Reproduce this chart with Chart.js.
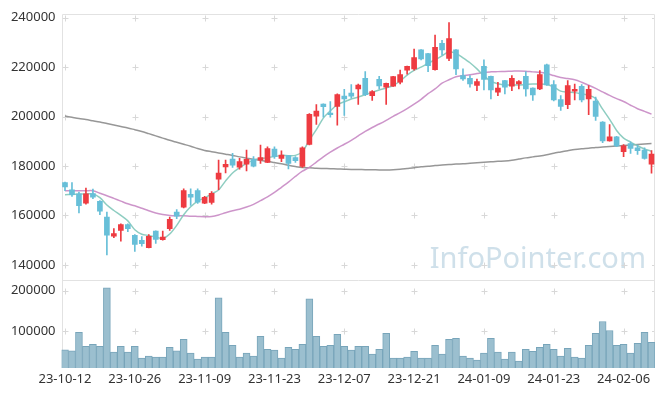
<!DOCTYPE html>
<html>
<head>
<meta charset="utf-8">
<script src="https://cdn.jsdelivr.net/npm/chart.js@4.4.1/dist/chart.umd.min.js"></script>
<style>
  html, body { margin: 0; padding: 0; background: #fff; }
  #wrap { width: 665px; height: 397px; }
</style>
</head>
<body>
<div id="wrap"><canvas id="chart" width="665" height="397"></canvas></div>
<script>
(function () {
  "use strict";

  /* ── Data ──────────────────────────────────── */

  var dates = [
    "23-10-12", "23-10-13", "23-10-16", "23-10-17", "23-10-18", "23-10-19", "23-10-20", "23-10-23", "23-10-24", "23-10-25",
    "23-10-26", "23-10-27", "23-10-30", "23-10-31", "23-11-01", "23-11-02", "23-11-03", "23-11-06", "23-11-07", "23-11-08",
    "23-11-09", "23-11-10", "23-11-13", "23-11-14", "23-11-15", "23-11-16", "23-11-17", "23-11-20", "23-11-21", "23-11-22",
    "23-11-23", "23-11-24", "23-11-27", "23-11-28", "23-11-29", "23-11-30", "23-12-01", "23-12-04", "23-12-05", "23-12-06",
    "23-12-07", "23-12-08", "23-12-11", "23-12-12", "23-12-13", "23-12-14", "23-12-15", "23-12-18", "23-12-19", "23-12-20",
    "23-12-21", "23-12-22", "23-12-26", "23-12-27", "23-12-28", "24-01-02", "24-01-03", "24-01-04", "24-01-05", "24-01-08",
    "24-01-09", "24-01-10", "24-01-11", "24-01-12", "24-01-15", "24-01-16", "24-01-17", "24-01-18", "24-01-19", "24-01-22",
    "24-01-23", "24-01-24", "24-01-25", "24-01-26", "24-01-29", "24-01-30", "24-01-31", "24-02-01", "24-02-02", "24-02-05",
    "24-02-06", "24-02-07", "24-02-08", "24-02-13", "24-02-14"
  ];

  var opens = [
    173300, 170400, 168700, 165000, 168800, 165700, 159300, 151600, 153900, 156300,
    152000, 149900, 147000, 153700, 150200, 154600, 161400, 163300, 168500, 170100,
    165000, 165300, 174700, 179600, 182800, 179500, 180700, 182700, 182400, 181500,
    186900, 183100, 184200, 183400, 179800, 188700, 200200, 205100, 201400, 204100,
    208300, 209500, 211200, 215500, 208500, 215100, 211900, 212300, 213900, 218800,
    219300, 227000, 225500, 219000, 229600, 223500, 227000, 216600, 215500, 212600,
    220300, 216300, 209900, 214600, 212300, 213200, 216300, 211500, 211200, 221000,
    213000, 206900, 204800, 210300, 212300, 207200, 206300, 197800, 190200, 191800,
    185800, 189100, 187400, 186500, 180700
  ];

  var highs = [
    173500, 173300, 169500, 171100, 170700, 166000, 161400, 154700, 156600, 156600,
    152300, 151400, 152300, 153800, 153700, 159300, 162400, 170800, 170800, 170800,
    167700, 169700, 182400, 182400, 185100, 183100, 186500, 183800, 188500, 187800,
    187800, 186100, 184300, 183800, 187800, 201200, 204900, 205200, 206100, 209200,
    211000, 213000, 213200, 218200, 210500, 216300, 213600, 216300, 218800, 220400,
    227300, 227100, 225600, 233000, 230900, 238000, 227100, 219300, 216600, 215200,
    223000, 216400, 213900, 214700, 216600, 214600, 218200, 211600, 218600, 221300,
    214600, 208500, 214600, 213200, 213000, 212600, 207900, 198000, 196800, 192000,
    188700, 189800, 188500, 187400, 186200
  ];

  var lows = [
    170000, 167700, 161000, 164600, 166800, 160300, 144000, 151000, 149600, 153400,
    145400, 147600, 146900, 148700, 150000, 153900, 158700, 163000, 164100, 164900,
    164800, 164600, 170400, 177200, 179400, 178700, 178000, 179600, 181100, 181400,
    183100, 181800, 178800, 181500, 179400, 188500, 196800, 199800, 199800, 196500,
    200500, 207500, 204900, 208500, 206500, 211200, 204900, 212200, 213200, 217200,
    218800, 222900, 218200, 218800, 224900, 222600, 217000, 214600, 211900, 210500,
    210800, 207200, 208500, 209200, 210500, 211200, 208300, 206500, 210900, 212600,
    206300, 202500, 203200, 206800, 205900, 200800, 198500, 189500, 190100, 187800,
    183800, 185100, 184700, 182800, 177100
  ];

  var closes = [
    171500, 168400, 164000, 168700, 167400, 161700, 152000, 152700, 156300, 154600,
    148300, 148600, 151600, 150300, 151200, 158400, 159700, 170100, 167400, 165400,
    167300, 169000, 177100, 180700, 180300, 181800, 182700, 179900, 183400, 187100,
    183800, 184400, 181100, 182200, 187400, 200900, 202200, 204000, 200800, 208900,
    207200, 208300, 212800, 208900, 210100, 212400, 213500, 216200, 217000, 220300,
    223900, 223300, 220600, 228000, 227000, 231600, 219300, 215200, 213200, 214200,
    215000, 210800, 211500, 211900, 215500, 214200, 211200, 208800, 217000, 212800,
    206800, 204100, 212600, 211000, 206800, 211000, 200100, 190200, 191800, 188100,
    188200, 187100, 186200, 183100, 184800
  ];

  var ma5 = [
    168400, 168500, 168600, 168700, 168700, 167200, 164200, 162000, 160000, 157800,
    154200, 152400, 151900, 151300, 150700, 152500, 156000, 160300, 163500, 165800,
    167100, 168700, 170300, 174000, 177200, 179300, 181100, 182300, 183000, 183400,
    183800, 184300, 184200, 184300, 185800, 190500, 194700, 199400, 202300, 204800,
    206000, 207100, 207900, 208900, 209800, 210800, 211600, 212600, 214400, 216800,
    218700, 220000, 221600, 223000, 224600, 226200, 225600, 223800, 221800, 219300,
    216500, 214300, 213300, 212800, 212800, 212800, 213000, 213200, 213200, 213000,
    212000, 210300, 209900, 209700, 209200, 208700, 207300, 203000, 198900, 194400,
    191300, 189700, 188200, 186900, 186000
  ];

  var ma20 = [
    170000, 170000, 170000, 170000, 170000, 169000, 168000, 166900, 165800, 164700,
    163900, 162900, 161900, 161000, 160400, 160000, 159900, 159900, 159700, 159600,
    159500, 159600, 160200, 161100, 161900, 162500, 163400, 164500, 166000, 167500,
    169300, 171400, 173500, 175800, 177900, 179500, 181600, 183700, 185600, 187300,
    188800, 190400, 192200, 194000, 195600, 197000, 198500, 200100, 201600, 203200,
    205000, 207000, 209300, 211200, 213500, 214900, 216100, 216600, 216900, 217400,
    217900, 218100, 218200, 218300, 218400, 218500, 218400, 218100, 217900, 217400,
    216600, 215800, 215400, 214900, 213900, 212700, 211400, 210000, 208600, 207300,
    206100, 204600, 203200, 202100, 201000
  ];

  var ma60 = [
    200200, 199700, 199200, 198800, 198300, 197800, 197200, 196600, 196000, 195400,
    194700, 194000, 193100, 192200, 191300, 190400, 189600, 188800, 188000, 187100,
    186300, 185800, 185300, 184800, 184300, 183700, 183200, 182700, 182300, 181900,
    181400, 180900, 180300, 179800, 179400, 179300, 179100, 179000, 178900, 178800,
    178700, 178600, 178600, 178500, 178500, 178400, 178400, 178500, 178700, 179000,
    179300, 179700, 179900, 180200, 180400, 180600, 180800, 180900, 181100, 181300,
    181500, 181700, 181900, 182000, 182300, 182800, 183300, 183700, 184100, 184600,
    185200, 185700, 186200, 186700, 187000, 187200, 187500, 187700, 187900, 188100,
    188300, 188500, 188700, 188900, 189100
  ];

  var volumes = [
    53700, 51200, 96800, 62600, 67500, 62600, 206500, 48000, 62600, 48000,
    62600, 33300, 38200, 35800, 35800, 60200, 51200, 79700, 45500, 30900,
    35800, 35800, 182100, 96800, 65000, 35800, 45500, 38200, 87000, 55300,
    52900, 33300, 60200, 55300, 67500, 179700, 87000, 62600, 65000, 91900,
    62600, 52900, 62600, 62600, 43100, 55300, 94300, 33300, 33300, 35800,
    50400, 33300, 33300, 65000, 43100, 79700, 82100, 38200, 33300, 28500,
    45500, 82100, 48000, 30900, 48000, 26000, 55300, 50400, 60200, 67500,
    55300, 38200, 57700, 35800, 33300, 65000, 94300, 123600, 101600, 65000,
    67500, 45500, 69900, 96800, 72400
  ];

  var priceTicks = [140000, 160000, 180000, 200000, 220000, 240000];
  var volumeTicks = [100000, 200000];

  /* ── Style ─────────────────────────────────── */

  var RED = "#ee3b41";
  var BLUE = "#67bfd8";
  var FONT = { family: "'Noto Sans', 'DejaVu Sans', sans-serif", size: 13 };
  var TEXT = "#333";

  function candleColor(i) { return closes[i] >= opens[i] ? RED : BLUE; }

  var bodyColors = opens.map(function (o, i) { return candleColor(i); });

  /* ── Plugin: frame, crosses, watermark ─────── */

  var framePlugin = {
    id: "frame",
    beforeDatasetsDraw: function (chart) {
      var ctx = chart.ctx;
      var a = chart.chartArea;
      var xs = chart.scales.x, ys = chart.scales.y, yv = chart.scales.yv;

      ctx.save();

      // watermark
      ctx.font = "29px 'Noto Sans', sans-serif";
      ctx.fillStyle = "#cfe0ea";
      ctx.textAlign = "right";
      ctx.textBaseline = "alphabetic";
      ctx.fillText("InfoPointer.com", 646, ys.bottom - 12);

      // crosses at grid intersections
      ctx.strokeStyle = "#d8d8d8";
      ctx.lineWidth = 1;
      ctx.beginPath();
      var rows = [];
      priceTicks.forEach(function (v) { rows.push(ys.getPixelForValue(v)); });
      volumeTicks.forEach(function (v) { rows.push(yv.getPixelForValue(v)); });
      for (var i = 0; i < dates.length; i += 10) {
        var x = Math.round(xs.getPixelForValue(i)) + 0.5;
        rows.forEach(function (y) {
          y = Math.round(y) + 0.5;
          ctx.moveTo(x - 3, y); ctx.lineTo(x + 3, y);
          ctx.moveTo(x, y - 3); ctx.lineTo(x, y + 3);
        });
      }
      rows.forEach(function (y) {
        y = Math.round(y) + 0.5;
        ctx.moveTo(a.right - 3, y); ctx.lineTo(a.right, y);
      });
      ctx.stroke();

      // panel borders
      ctx.strokeStyle = "#e2e2e2";
      ctx.beginPath();
      var l = Math.round(a.left) + 0.5, r = Math.round(a.right) - 0.5;
      var t = Math.round(a.top) + 0.5, b = Math.round(a.bottom) - 0.5;
      var mid = Math.round(ys.bottom) + 0.5;
      ctx.rect(l, t, r - l, b - t);
      ctx.moveTo(l, mid); ctx.lineTo(r, mid);
      ctx.stroke();

      ctx.restore();
    }
  };

  /* ── Chart ─────────────────────────────────── */

  function fixWidth(s) { s.width = 61.5; }

  new Chart(document.getElementById("chart"), {
    data: {
      labels: dates,
      datasets: [
        {
          type: "bar",
          label: "body",
          data: opens.map(function (o, i) { return [o, closes[i]]; }),
          backgroundColor: bodyColors,
          barThickness: 5,
          grouped: false,
          yAxisID: "y",
          order: 1
        },
        {
          type: "bar",
          label: "wick",
          data: lows.map(function (lo, i) { return [lo, highs[i]]; }),
          backgroundColor: bodyColors,
          barThickness: 1,
          grouped: false,
          yAxisID: "y",
          order: 2
        },
        {
          type: "line",
          label: "MA5",
          data: ma5,
          borderColor: "rgba(130, 200, 186, 0.9)",
          borderWidth: 1.5,
          pointRadius: 0,
          tension: 0.3,
          yAxisID: "y",
          order: 3
        },
        {
          type: "line",
          label: "MA20",
          data: ma20,
          borderColor: "rgba(200, 138, 196, 0.9)",
          borderWidth: 1.5,
          pointRadius: 0,
          tension: 0.3,
          yAxisID: "y",
          order: 3
        },
        {
          type: "line",
          label: "MA60",
          data: ma60,
          borderColor: "rgba(140, 140, 140, 0.9)",
          borderWidth: 1.5,
          pointRadius: 0,
          tension: 0.3,
          yAxisID: "y",
          order: 3
        },
        {
          type: "bar",
          label: "volume",
          data: volumes,
          backgroundColor: "#9bbfcf",
          borderColor: "#78a5ba",
          borderWidth: 1,
          barPercentage: 1,
          categoryPercentage: 1,
          grouped: false,
          yAxisID: "yv",
          order: 4
        }
      ]
    },
    options: {
      responsive: false,
      animation: false,
      devicePixelRatio: 1,
      layout: { padding: { top: 11, right: 10, left: 0, bottom: 0 } },
      plugins: {
        legend: { display: false },
        tooltip: { enabled: false }
      },
      scales: {
        x: {
          type: "category",
          offset: true,
          grid: { display: false, drawTicks: false },
          border: { display: false },
          ticks: {
            autoSkip: false,
            maxRotation: 0,
            minRotation: 0,
            padding: 3,
            color: TEXT,
            font: FONT,
            callback: function (v, i) { return i % 10 === 0 ? dates[i] : ""; }
          },
          afterFit: function (s) { s.height = 29; }
        },
        y: {
          type: "linear",
          position: "left",
          stack: "panel",
          stackWeight: 268,
          weight: 2,
          min: 134000,
          max: 241600,
          grid: { display: false, drawTicks: false },
          border: { display: false },
          afterBuildTicks: function (s) {
            s.ticks = priceTicks.map(function (v) { return { value: v }; });
          },
          ticks: {
            padding: 6,
            color: TEXT,
            font: FONT,
            callback: function (v) { return String(v); }
          },
          afterFit: fixWidth
        },
        yv: {
          type: "linear",
          position: "left",
          stack: "panel",
          stackWeight: 89,
          weight: 1,
          min: 9000,
          max: 226800,
          grid: { display: false, drawTicks: false },
          border: { display: false },
          afterBuildTicks: function (s) {
            s.ticks = volumeTicks.map(function (v) { return { value: v }; });
          },
          ticks: {
            padding: 6,
            color: TEXT,
            font: FONT,
            callback: function (v) { return String(v); }
          },
          afterFit: fixWidth
        }
      }
    },
    plugins: [framePlugin]
  });
})();
</script>
</body>
</html>
